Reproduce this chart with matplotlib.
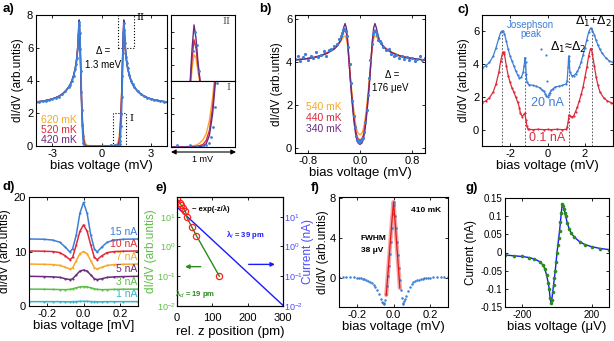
import numpy as np
import matplotlib
matplotlib.use('Agg')
import matplotlib.pyplot as plt
from matplotlib.patches import Rectangle

plt.rcParams['font.family'] = ['Liberation Sans', 'DejaVu Sans']
plt.rcParams['axes.unicode_minus'] = False
plt.rcParams['xtick.direction'] = 'in'
plt.rcParams['ytick.direction'] = 'in'
plt.rcParams['xtick.top'] = True
plt.rcParams['ytick.right'] = True
plt.rcParams['xtick.major.size'] = 2.5
plt.rcParams['ytick.major.size'] = 2.5
plt.rcParams['xtick.major.width'] = 0.6
plt.rcParams['ytick.major.width'] = 0.6
plt.rcParams['xtick.labelsize'] = 8
plt.rcParams['ytick.labelsize'] = 8
plt.rcParams['axes.linewidth'] = 0.8
plt.rcParams['xtick.major.pad'] = 2
plt.rcParams['ytick.major.pad'] = 2

BLUE = '#3d7fd6'
ORANGE = '#f7a82a'
RED = '#dc2a3c'
PURPLE = '#6b2a7e'
GREEN = '#5cbf45'
CYAN = '#33b6c9'
DGREEN = '#2a8a1e'

# ---------------- data ----------------
# a) data (blue) and fits at three temperatures (fits as half curves, mirrored)
a_v = [-4.0, -3.8, -3.6, -3.4, -3.2, -3.0, -2.8, -2.6, -2.4, -2.2, -2.0, -1.9, -1.8, -1.7, -1.6,
       -1.55, -1.5, -1.45, -1.41, -1.38, -1.35, -1.32, -1.29, -1.26, -1.23, -1.2, -1.17, -1.14,
       -1.11, -1.05, -0.9, -0.7, -0.5, -0.3, -0.1, 0.1, 0.3, 0.5, 0.6, 0.7, 0.8, 0.9, 1.0, 1.05,
       1.1, 1.13, 1.16, 1.19, 1.22, 1.25, 1.28, 1.31, 1.34, 1.37, 1.4, 1.44, 1.5, 1.55, 1.6, 1.7,
       1.8, 1.9, 2.0, 2.2, 2.4, 2.6, 2.8, 3.0, 3.2, 3.4, 3.6, 3.8, 4.0]
a_data = [2.68, 2.7, 2.72, 2.76, 2.8, 2.86, 2.93, 3.02, 3.15, 3.33, 3.58, 3.75, 3.98, 4.3, 4.72,
          5.0, 5.4, 6.0, 6.8, 7.4, 7.55, 6.9, 5.9, 4.6, 3.3, 2.2, 1.3, 0.6,
          0.2, 0.03, 0.0, 0.02, 0.0, 0.01, 0.0, 0.02, 0.0, 0.01, 0.05, 0.0, 0.06, 0.02, 0.03, 0.05,
          0.12, 0.3, 0.6, 1.2, 1.95, 3.0, 4.3, 5.7, 6.9, 7.5, 7.1, 6.3, 5.45, 5.05, 4.75, 4.32,
          4.0, 3.78, 3.6, 3.35, 3.17, 3.04, 2.95, 2.88, 2.82, 2.78, 2.74, 2.71, 2.69]
a_fit_v = [0, 0.6, 0.8, 0.9, 0.95, 1.0, 1.05, 1.1, 1.15, 1.2, 1.25, 1.3, 1.33, 1.36, 1.39, 1.42,
           1.46, 1.5, 1.55, 1.6, 1.7, 1.8, 1.9, 2.0, 2.2, 2.4, 2.6, 2.8, 3.0, 3.3, 3.6, 4.0]
a_fit_420 = [0, 0, 0, 0.005, 0.01, 0.03, 0.1, 0.35, 1.0, 2.1, 3.7, 6.0, 7.0, 7.7, 7.3, 6.6,
             5.9, 5.45, 5.05, 4.75, 4.32, 4.0, 3.78, 3.6, 3.35, 3.17, 3.04, 2.95, 2.88, 2.8, 2.74, 2.69]
a_fit_520 = [0, 0, 0.005, 0.02, 0.04, 0.08, 0.2, 0.5, 1.2, 2.3, 3.8, 5.9, 6.7, 7.25, 7.0, 6.5,
             5.9, 5.45, 5.05, 4.75, 4.32, 4.0, 3.78, 3.6, 3.35, 3.17, 3.04, 2.95, 2.88, 2.8, 2.74, 2.69]
a_fit_620 = [0, 0, 0.02, 0.06, 0.12, 0.22, 0.4, 0.8, 1.5, 2.5, 3.9, 5.7, 6.4, 6.8, 6.7, 6.3,
             5.85, 5.45, 5.05, 4.75, 4.32, 4.0, 3.78, 3.6, 3.35, 3.17, 3.04, 2.95, 2.88, 2.8, 2.74, 2.69]
a_labels = ['620 mK', '520 mK', '420 mK']

# b)
b_v = [-1.0, -0.96, -0.92, -0.88, -0.84, -0.8, -0.76, -0.72, -0.68, -0.64, -0.6, -0.56, -0.52,
       -0.48, -0.44, -0.4, -0.36, -0.32, -0.3, -0.28, -0.26, -0.24, -0.22, -0.2, -0.18, -0.16,
       -0.14, -0.12, -0.1, -0.08, -0.06, -0.04, -0.02, 0.0, 0.02, 0.04, 0.06, 0.08, 0.1, 0.12,
       0.14, 0.16, 0.18, 0.2, 0.22, 0.24, 0.26, 0.28, 0.3, 0.32, 0.36, 0.4, 0.44, 0.48, 0.52,
       0.56, 0.6, 0.64, 0.68, 0.72, 0.76, 0.8, 0.84, 0.88, 0.92, 0.96, 1.0]
b_data = [4.15, 4.3, 4.05, 4.25, 4.4, 4.1, 4.3, 4.2, 4.45, 4.25, 4.35, 4.5, 4.3,
          4.55, 4.6, 4.75, 4.85, 5.1, 5.2, 5.35, 5.5, 5.55, 5.45, 5.2, 4.7, 3.9,
          3.0, 2.2, 1.5, 0.95, 0.55, 0.35, 0.28, 0.3, 0.35, 0.45, 0.75, 1.2, 1.75, 2.45,
          3.25, 4.1, 4.85, 5.3, 5.45, 5.4, 5.25, 5.05, 5.0, 4.9, 4.7, 4.55, 4.6, 4.4, 4.3,
          4.35, 4.2, 4.3, 4.15, 4.25, 4.1, 4.2, 4.05, 4.15, 4.3, 4.1, 4.2]
b_fit_v = [0, 0.03, 0.05, 0.07, 0.09, 0.11, 0.13, 0.15, 0.17, 0.19, 0.21, 0.23, 0.25, 0.27,
           0.3, 0.35, 0.4, 0.5, 0.6, 0.7, 0.8, 0.9, 1.0]
b_fit_340 = [0.15, 0.22, 0.38, 0.7, 1.15, 1.75, 2.45, 3.2, 4.1, 5.0, 5.6, 5.8, 5.62, 5.35,
             5.0, 4.75, 4.6, 4.42, 4.3, 4.22, 4.17, 4.13, 4.1]
b_fit_440 = [0.35, 0.42, 0.57, 0.88, 1.32, 1.9, 2.55, 3.3, 4.1, 4.9, 5.35, 5.5, 5.42, 5.25,
             5.0, 4.78, 4.62, 4.43, 4.3, 4.22, 4.17, 4.13, 4.1]
b_fit_540 = [0.6, 0.68, 0.85, 1.15, 1.6, 2.15, 2.75, 3.4, 4.1, 4.75, 5.1, 5.22, 5.2, 5.1,
             4.95, 4.78, 4.64, 4.45, 4.32, 4.23, 4.17, 4.13, 4.1]
b_labels = ['540 mK', '440 mK', '340 mK']

# c) two setpoints
c_v20 = [-3.5, -3.3, -3.1, -2.9, -2.75, -2.6, -2.5, -2.4, -2.3, -2.2, -2.1, -2.0, -1.9, -1.8,
         -1.7, -1.6, -1.5, -1.4, -1.3, -1.25, -1.2, -1.17, -1.14, -1.1, -1.0, -0.8, -0.6, -0.4,
         -0.3, -0.2, -0.12, -0.06, 0.0, 0.06, 0.12, 0.2, 0.3, 0.4, 0.6, 0.8, 1.0, 1.05, 1.1,
         1.13, 1.16, 1.2, 1.3, 1.4, 1.5, 1.6, 1.7, 1.8, 1.9, 2.0, 2.1, 2.2, 2.3, 2.4, 2.5, 2.6,
         2.7, 2.8, 2.9, 3.1, 3.3, 3.5]
c_20nA = [3.75, 3.9, 4.1, 4.5, 5.0, 5.6, 5.95, 6.05, 5.85, 5.4, 4.9, 4.5, 4.2, 3.9,
          3.6, 3.35, 3.15, 3.2, 3.5, 3.9, 4.4, 4.1, 3.4, 2.9, 2.75, 2.7, 2.65, 2.55,
          2.45, 2.35, 2.2, 2.05, 2.0, 2.1, 2.25, 2.4, 2.5, 2.6, 2.65, 2.7, 2.8, 3.0, 3.8,
          4.5, 4.2, 3.5, 3.3, 3.3, 3.4, 3.55, 3.8, 4.15, 4.55, 5.0, 5.5, 5.95, 6.2, 6.05, 5.8, 5.45,
          5.15, 4.9, 4.7, 4.4, 4.2, 4.1]
c_jos_v = [-0.33, -0.07, -0.05]
c_jos = [4.9, 4.55, 3.0]
c_v01 = [-3.5, -3.3, -3.1, -2.9, -2.75, -2.6, -2.5, -2.4, -2.35, -2.3, -2.2, -2.1, -2.0, -1.9,
         -1.8, -1.7, -1.6, -1.5, -1.45, -1.35, -1.22, -1.15, -1.1, -1.05, -1.0, -0.8, -0.5,
         -0.2, 0.0, 0.2, 0.5, 0.8, 1.0, 1.05, 1.1, 1.15, 1.2, 1.3, 1.4, 1.5, 1.6, 1.7, 1.8, 1.9,
         2.0, 2.1, 2.2, 2.3, 2.35, 2.4, 2.5, 2.6, 2.7, 2.8, 3.0, 3.2, 3.4, 3.5]
c_01nA = [1.65, 1.75, 1.95, 2.3, 2.8, 3.5, 4.2, 4.7, 4.75, 4.6, 3.9, 3.3, 2.9, 2.55,
          2.3, 2.0, 1.7, 1.35, 1.0, 0.8, 1.0, 0.6, 0.2, 0.05, 0.02, 0.0, 0.02,
          0.0, 0.01, 0.0, 0.02, 0.0, 0.02, 0.15, 0.45, 0.9, 0.85, 0.75, 0.85, 1.1, 1.4, 1.75, 2.15, 2.6,
          3.2, 3.8, 4.5, 4.95, 4.9, 4.6, 3.9, 3.2, 2.7, 2.3, 1.95, 1.75, 1.65, 1.6]
c_gap_lines = [-2.42, -1.21, 1.16, 2.37]
c_gap_tops = [6.0, 4.4, 4.5, 6.2]

# d) setpoint series (half curves, mirrored)
d_v = [0, 0.02, 0.04, 0.06, 0.075, 0.1, 0.13, 0.17, 0.22, 0.3]
d_15 = [19.0, 17.0, 13.0, 10.5, 9.9, 10.8, 11.7, 12.1, 12.25, 12.3]
d_10 = [14.9, 13.7, 11.2, 8.9, 8.5, 9.2, 9.8, 10.0, 10.05, 10.1]
d_7 = [10.0, 9.6, 8.3, 7.0, 6.8, 7.1, 7.45, 7.6, 7.65, 7.7]
d_5 = [6.6, 6.4, 5.7, 5.0, 4.85, 5.0, 5.25, 5.35, 5.4, 5.45]
d_3 = [3.55, 3.5, 3.35, 3.15, 3.05, 3.0, 3.02, 3.05, 3.08, 3.1]
d_1 = [0.85, 0.85, 0.82, 0.8, 0.78, 0.78, 0.8, 0.8, 0.8, 0.8]
d_labels = ['15 nA', '10 nA', '7 nA', '5 nA', '3 nA', '1 nA']

# e) decay with distance
e_z = [0, 8, 12, 18, 24, 28, 42, 55, 120]
e_didv = [40, 30, 24, 20, 15, 9.5, 4.5, 2.3, 0.1]
e_zi = [0, 300]
e_current = [21, 0.0105]

# f) Josephson peak
f_v = [-0.3, -0.28, -0.26, -0.24, -0.22, -0.2, -0.19, -0.18, -0.17, -0.16, -0.15, -0.14, -0.13,
       -0.12, -0.11, -0.1, -0.09, -0.08, -0.07, -0.065, -0.06, -0.055, -0.05, -0.045, -0.04,
       -0.035, -0.03, -0.025, -0.02, -0.015, -0.01, -0.005, 0.0, 0.005, 0.01, 0.015, 0.02, 0.025,
       0.03, 0.035, 0.04, 0.045, 0.05, 0.055, 0.06, 0.065, 0.07, 0.08, 0.09, 0.1, 0.11, 0.12,
       0.13, 0.14, 0.15, 0.16, 0.17, 0.18, 0.19, 0.2, 0.22, 0.24, 0.26, 0.28, 0.3]
f_didv = [0.12, 0.12, 0.1, 0.1, 0.08, 0.05, 0.03, 0.0, -0.05, -0.1, -0.17, -0.25, -0.36,
          -0.5, -0.68, -0.9, -1.2, -1.6, -2.1, -2.35, -2.5, -2.6, -2.5, -2.2, -1.6,
          -0.8, 0.2, 1.2, 2.4, 3.6, 5.0, 6.4, 7.6, 7.3, 6.2, 5.0, 3.6, 2.3,
          1.0, -0.2, -1.2, -2.0, -2.5, -2.55, -2.3, -2.05, -1.8, -1.3, -0.9, -0.6, -0.42, -0.3,
          -0.22, -0.15, -0.1, -0.05, -0.02, 0.0, 0.03, 0.05, 0.08, 0.1, 0.1, 0.12, 0.12]
f_fit_v = [-0.04, -0.03, -0.02, -0.01, 0.0, 0.01, 0.02, 0.03, 0.035]
f_fit = [-1.7, 0.6, 3.0, 5.4, 7.6, 5.3, 2.8, 0.3, -1.0]

# g) I(V)
g_v = [-300, -250, -200, -160, -130, -100, -80, -70, -60, -50, -45, -40, -35, -30, -25, -20,
       -15, -10, -5, 0, 5, 10, 15, 20, 25, 30, 35, 40, 45, 50, 60, 70, 80, 100, 130, 160, 200,
       250, 300]
g_i = [-0.007, -0.009, -0.011, -0.014, -0.018, -0.025, -0.035, -0.046, -0.062, -0.085, -0.1,
       -0.125, -0.138, -0.13, -0.11, -0.09, -0.07, -0.05, -0.025, 0.0, 0.02, 0.04, 0.06, 0.085,
       0.11, 0.133, 0.128, 0.12, 0.11, 0.1, 0.08, 0.066, 0.055, 0.042, 0.03, 0.022, 0.016,
       0.011, 0.008]


def mirror(v, y):
    v = np.asarray(v, float)
    y = np.asarray(y, float)
    return np.concatenate([-v[:0:-1], v]), np.concatenate([y[:0:-1], y])


W, H = 614, 341
fig = plt.figure(figsize=(W / 100, H / 100), dpi=100)


def box(l, t, r, b):
    return fig.add_axes([l / W, 1 - b / H, (r - l) / W, (b - t) / H])


def fpx(x, y):
    return (x / W, 1 - y / H)


def letter(x, y, s):
    fig.text(x / W, 1 - y / H, s, fontsize=9.5, fontweight='bold', va='center', ha='left')


XL = 9.5
YL = 8.5

# ---------------- a ----------------
ax = box(36, 15, 167, 146)
fits_a = [(a_fit_620, ORANGE), (a_fit_520, RED), (a_fit_420, PURPLE)]
for yv, c in fits_a:
    vv, yy = mirror(a_fit_v, yv)
    ax.plot(vv, yy, color=c, lw=1.0)
ax.plot(a_v, a_data, 'o-', color=BLUE, ms=2, lw=1.2, mew=0)
ax.set_xlim(-4, 4)
ax.set_ylim(0, 8)
ax.set_xticks([-3, 0, 3])
ax.set_yticks([0, 2, 4, 6, 8])
ax.add_patch(Rectangle((0.7, 0), 0.8, 2, fill=False, ls=':', lw=0.8, color='k'))
ax.add_patch(Rectangle((1.0, 6), 1.0, 2, fill=False, ls=':', lw=0.8, color='k', clip_on=False))
ax.text(2.15, 7.7, 'II', fontsize=7, family='DejaVu Serif')
ax.text(1.7, 1.55, 'I', fontsize=7, family='DejaVu Serif')
ax.text(0.1, 5.6, '\u0394 =', fontsize=7, ha='center')
ax.text(0.1, 4.75, '1.3 meV', fontsize=7, ha='center')
for k, (lab, c) in enumerate(zip(a_labels, [ORANGE, RED, PURPLE])):
    ax.text(-3.7, 1.6 - 0.62 * k, lab, color=c, fontsize=7.5, va='center')
ax.set_xlabel('bias voltage (mV)', fontsize=XL, labelpad=1)
ax.set_ylabel('dI/dV (arb.untis)', fontsize=YL, labelpad=2)

# insets of a
for rng, yl, top, bot, lab in [((1.0, 2.0), (6, 8), 15, 81, 'II'), ((0.5, 1.5), (0, 2), 81, 147, 'I')]:
    ins = box(171, top, 235, bot)
    for yv, c in fits_a:
        vv, yy = mirror(a_fit_v, yv)
        ins.plot(vv, yy, color=c, lw=1.0)
    ins.plot(a_v, a_data, 'o', color=BLUE, ms=2, mew=0)
    ins.set_xlim(*rng)
    ins.set_ylim(*yl)
    ins.set_xticks([])
    ins.set_yticks(np.linspace(yl[0], yl[1], 5)[1:-1])
    ins.tick_params(labelleft=False, right=False, length=2)
    ins.text(0.93, 0.9, lab, transform=ins.transAxes, ha='right', va='center', fontsize=7,
             family='DejaVu Serif', color='#555555')
fig.add_artist(plt.Annotation('', xy=fpx(236, 152), xytext=fpx(171, 152),
                              xycoords='figure fraction', textcoords='figure fraction',
                              arrowprops=dict(arrowstyle='<|-|>', color='k', lw=0.8,
                                              mutation_scale=7, shrinkA=0, shrinkB=0)))
fig.text(203 / W, 1 - 159 / H, '1 mV', fontsize=6.5, ha='center', va='center')

# ---------------- b ----------------
ax = box(295, 15, 425, 153)
for yv, c in [(b_fit_540, ORANGE), (b_fit_440, RED), (b_fit_340, PURPLE)]:
    vv, yy = mirror(b_fit_v, yv)
    ax.plot(vv, yy, color=c, lw=1.0)
ax.plot(b_v, b_data, 'o', color=BLUE, ms=2.3, mew=0)
ax.set_xlim(-1, 1)
ax.set_ylim(-0.25, 6.2)
ax.set_xticks([-0.8, 0, 0.8])
ax.set_yticks([0, 2, 4, 6])
ax.text(0.5, 3.25, '\u0394 =', fontsize=7, ha='center')
ax.text(0.47, 2.65, '176 \u03bceV', fontsize=7, ha='center')
for k, (lab, c) in enumerate(zip(b_labels, [ORANGE, RED, PURPLE])):
    ax.text(-0.83, 1.9 - 0.52 * k, lab, color=c, fontsize=7.5, va='center')
ax.set_xlabel('bias voltage (mV)', fontsize=XL, labelpad=1)
ax.set_ylabel('dI/dV (arb.untis)', fontsize=YL, labelpad=2)

# ---------------- c ----------------
ax = box(482, 15, 613, 146)
for x, t in zip(c_gap_lines, c_gap_tops):
    ax.plot([x, x], [-1, t], ls=(0, (2, 2)), color='#444444', lw=0.6)
ax.plot(c_v20, c_20nA, 'o-', color=BLUE, ms=1.6, lw=0.9, mew=0)
ax.plot(c_jos_v, c_jos, 'o', color=BLUE, ms=1.6, mew=0)
ax.plot(c_v01, c_01nA, 'o-', color=RED, ms=1.6, lw=0.9, mew=0)
ax.set_xlim(-3.5, 3.5)
ax.set_ylim(-1, 7)
ax.set_xticks([-2, 0, 2])
ax.set_yticks([0, 2, 4, 6])
ax.text(-0.9, 6.4, 'Josephson', color=BLUE, fontsize=7, ha='center', va='center')
ax.text(-0.9, 5.85, 'peak', color=BLUE, fontsize=7, ha='center', va='center')
ax.text(2.45, 6.6, '\u0394$_1$+\u0394$_2$', fontsize=9, ha='center', va='center')
ax.text(1.1, 5.0, '\u0394$_1$\u2248\u0394$_2$', fontsize=9, ha='center', va='center')
ax.text(0.0, 1.6, '20 nA', color=BLUE, fontsize=9, ha='center', va='center')
ax.text(0.0, -0.5, '0.1 nA', color=RED, fontsize=9, ha='center', va='center')
ax.set_xlabel('bias voltage (mV)', fontsize=XL, labelpad=1)
ax.set_ylabel('dI/dV (arb.untis)', fontsize=YL, labelpad=2)

# ---------------- d ----------------
ax = box(29, 197, 138, 306)
d_series = [d_15, d_10, d_7, d_5, d_3, d_1]
d_cols = [BLUE, RED, ORANGE, PURPLE, GREEN, CYAN]
for yv, c, lab in zip(d_series, d_cols, d_labels):
    vv, yy = mirror(d_v, yv)
    ax.plot(vv, yy, 'o-', color=c, ms=1.5, lw=1.1, mew=0)
    ax.text(0.295, yv[-1] + 0.4, lab, color=c, fontsize=7.5, ha='right', va='bottom')
ax.set_xlim(-0.3, 0.3)
ax.set_ylim(0, 20)
ax.set_xticks([-0.2, 0, 0.2])
ax.set_yticks([0, 10, 20])
ax.set_xlabel('bias voltage [mV]', fontsize=XL, labelpad=1)
ax.set_ylabel('dI/dV (arb.untis)', fontsize=YL, labelpad=2)

# ---------------- e ----------------
ax = box(177, 197, 283, 306)
ax2 = ax.twinx()
ax2.plot(e_zi, e_current, color='#1a1aff', lw=1.0)
ax.plot(e_z, e_didv, '-', color=DGREEN, lw=1.0)
ax.plot(e_z, e_didv, 'o', mfc='none', mec='#ff2020', ms=4.5, mew=0.9)
for a_ in (ax, ax2):
    a_.set_yscale('log')
    a_.set_ylim(1e-2, 46)
    a_.set_yticks([1e-2, 1e-1, 1, 10])
    a_.minorticks_off()
ax.set_xlim(0, 300)
ax.set_xticks([0, 100, 200, 300])
ax.tick_params(axis='x', pad=5)
ax.tick_params(axis='y', labelcolor=GREEN, right=False, labelsize=6.5, pad=1)
ax2.tick_params(axis='y', labelcolor='#4a4aff', labelsize=6.5, pad=1)
ax.set_zorder(ax2.get_zorder() + 1)
ax.patch.set_visible(False)
ax.text(95, 18, '~ exp(-z/\u03bb)', fontsize=5.5, fontweight='bold', ha='center', va='center')
ax.text(193, 2.4, '\u03bb$_I$ = 39 pm', color='#1a1aff', fontsize=5.5, fontweight='bold',
        ha='center', va='center')
ax.text(50, 0.025, '\u03bb$_d$ = 19 pm', color=DGREEN, fontsize=5.5, fontweight='bold',
        ha='center', va='center')
ax.annotate('', xy=(15, 0.21), xytext=(75, 0.21),
            arrowprops=dict(arrowstyle='-|>', color=DGREEN, lw=1.0, mutation_scale=6))
ax.annotate('', xy=(285, 0.25), xytext=(195, 0.25),
            arrowprops=dict(arrowstyle='-|>', color='#1a1aff', lw=1.0, mutation_scale=6))
ax.set_xlabel('rel. z position (pm)', fontsize=XL, labelpad=2)
ax.set_ylabel('dI/dV (arb.untis)', fontsize=YL, color=GREEN, labelpad=0)
ax2.set_ylabel('Current (nA)', fontsize=YL, color='#4a4aff', labelpad=-1)

# ---------------- f ----------------
ax = box(339, 197, 448, 307)
ax.plot(f_fit_v, f_fit, color='#f4a5a5', lw=3, solid_capstyle='round')
ax.plot(f_v, f_didv, 'o', color=BLUE, ms=1.8, mew=0)
ax.plot(f_fit_v, f_fit, color='#e01818', lw=0.9)
ax.set_xlim(-0.3, 0.3)
ax.set_ylim(-2.9, 8.1)
ax.set_xticks([-0.2, 0, 0.2])
ax.set_yticks([0, 4, 8])
ax.text(0.18, 6.8, '410 mK', fontsize=6, fontweight='bold', ha='center', va='center')
ax.text(-0.18, 4.0, 'FWHM', fontsize=6, fontweight='bold', ha='left', va='center')
ax.text(-0.18, 2.8, '38 \u03bcV', fontsize=6, fontweight='bold', ha='left', va='center')
ax.set_xlabel('bias voltage (mV)', fontsize=XL, labelpad=1)
ax.set_ylabel('dI/dV (arb.untis)', fontsize=YL, labelpad=1)

# ---------------- g ----------------
ax = box(505, 198, 609, 307)
ax.plot(g_v, g_i, color='#1a1aff', lw=1.0)
ax.plot(g_v, g_i, 'o', color=DGREEN, ms=2.6, mew=0)
ax.set_xlim(-300, 300)
ax.set_ylim(-0.15, 0.15)
ax.set_xticks([-200, 200])
ax.set_yticks([-0.15, -0.1, -0.05, 0, 0.05, 0.1, 0.15])
ax.set_yticklabels(['-0.15', '-0.1', '-0.05', '0', '0.05', '0.1', '0.15'])
ax.tick_params(labelsize=7)
ax.set_xlabel('bias voltage (\u03bcV)', fontsize=XL, labelpad=1)
ax.set_ylabel('Current (nA)', fontsize=YL, labelpad=2)

letter(3, 9, 'a)')
letter(259, 9, 'b)')
letter(457, 10, 'c)')
letter(3, 187, 'd)')
letter(156, 188, 'e)')
letter(311, 188, 'f)')
letter(465, 188, 'g)')

fig.savefig('out.png', dpi=100)
